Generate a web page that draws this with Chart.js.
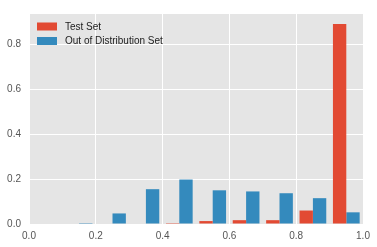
<!DOCTYPE html>
<html>
<head>
<meta charset="utf-8">
<script src="https://cdn.jsdelivr.net/npm/chart.js@4/dist/chart.umd.min.js"></script>
<style>
    html, body { margin: 0; padding: 0; background: #ffffff; }
    #wrap { width: 377px; height: 247px; }
</style>
</head>
<body>
<div id="wrap"><canvas id="histChart"></canvas></div>
<script>
// Histogram bins (centres) and fractions per bin
const binCenters = [0.05, 0.15, 0.25, 0.35, 0.45, 0.55, 0.65, 0.75, 0.85, 0.95];
const testSet = [0, 0, 0, 0, 0.004, 0.013, 0.017, 0.017, 0.060, 0.890];
const oodSet = [0, 0.004, 0.047, 0.155, 0.198, 0.150, 0.145, 0.137, 0.115, 0.052];

const xTicks = [0.0, 0.2, 0.4, 0.6, 0.8, 1.0];
const yTicks = [0.0, 0.2, 0.4, 0.6, 0.8];

const seriesNames = ['Test Set', 'Out of Distribution Set'];
const seriesColors = ['#E24A33', '#348ABD'];

const toPoints = values => values.map((v, i) => ({ x: binCenters[i], y: v }));

// Grey panel behind the plot
const panelBackground = {
    id: 'panelBackground',
    beforeDraw(chart) {
        const { ctx, chartArea: a } = chart;
        ctx.save();
        ctx.fillStyle = '#E5E5E5';
        ctx.fillRect(a.left, a.top, a.right - a.left, a.bottom - a.top);
        ctx.restore();
    }
};

// Legend drawn inside the plot, top left
const insideLegend = {
    id: 'insideLegend',
    afterDatasetsDraw(chart) {
        const { ctx, chartArea: a } = chart;
        ctx.save();
        ctx.font = '10px "Liberation Sans", Arial, sans-serif';
        ctx.textBaseline = 'middle';
        chart.data.datasets.forEach((ds, i) => {
            const y = a.top + 12.5 + i * 14.5;
            ctx.fillStyle = ds.backgroundColor;
            ctx.fillRect(a.left + 8, y - 4, 20, 8);
            ctx.fillStyle = '#222222';
            ctx.fillText(ds.label, a.left + 36, y + 0.5);
        });
        ctx.restore();
    }
};

const tickFont = { family: '"Liberation Sans", Arial, sans-serif', size: 10 };

new Chart(document.getElementById('histChart'), {
    type: 'bar',
    data: {
        datasets: [
            {
                label: seriesNames[0],
                data: toPoints(testSet),
                backgroundColor: seriesColors[0],
                borderWidth: 0
            },
            {
                label: seriesNames[1],
                data: toPoints(oodSet),
                backgroundColor: seriesColors[1],
                borderWidth: 0
            }
        ]
    },
    options: {
        responsive: true,
        maintainAspectRatio: false,
        animation: false,
        layout: { padding: { top: 7, right: 14, left: 0, bottom: 0 } },
        datasets: {
            bar: { categoryPercentage: 0.8, barPercentage: 1.0 }
        },
        plugins: {
            legend: { display: false },
            tooltip: { enabled: false }
        },
        scales: {
            x: {
                type: 'linear',
                min: 0,
                max: 1,
                offset: false,
                afterBuildTicks: scale => { scale.ticks = xTicks.map(v => ({ value: v })); },
                afterFit: scale => { scale.height = 23; },
                grid: { color: '#ffffff', lineWidth: 1, drawTicks: false, offset: false },
                border: { display: false },
                ticks: {
                    color: '#555555',
                    font: tickFont,
                    padding: 6,
                    maxRotation: 0,
                    callback: v => Number(v).toFixed(1)
                }
            },
            y: {
                min: 0,
                max: 0.935,
                afterBuildTicks: scale => { scale.ticks = yTicks.map(v => ({ value: v })); },
                afterFit: scale => { scale.width = 29; },
                grid: { color: '#ffffff', lineWidth: 1, drawTicks: false },
                border: { display: false },
                ticks: {
                    color: '#555555',
                    font: tickFont,
                    padding: 8,
                    callback: v => Number(v).toFixed(1)
                }
            }
        }
    },
    plugins: [panelBackground, insideLegend]
});
</script>
</body>
</html>
